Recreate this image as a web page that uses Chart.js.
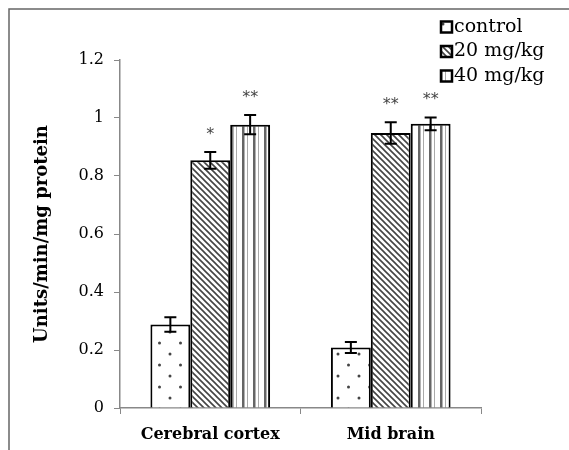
<!DOCTYPE html>
<html>
<head>
<meta charset="utf-8">
<script src="https://cdn.jsdelivr.net/npm/chart.js@4"></script>
<style>
  html, body { margin: 0; padding: 0; background: #fff; }
  #wrap { width: 569px; height: 450px; position: relative; }
</style>
</head>
<body>
<div id="wrap"><canvas id="c" width="569" height="450"></canvas></div>
<script>
"use strict";

const categories = ["Cerebral cortex", "Mid brain"];
const seriesNames = ["control", "20 mg/kg", "40 mg/kg"];
const controlVals = [0.288, 0.209];
const controlErr = [0.025, 0.019];
const mg20Vals = [0.854, 0.948];
const mg20Err = [0.029, 0.037];
const mg40Vals = [0.977, 0.980];
const mg40Err = [0.033, 0.022];
const controlMarks = ["", ""];
const mg20Marks = ["*", "**"];
const mg40Marks = ["**", "**"];
const yTicks = [0, 0.2, 0.4, 0.6, 0.8, 1, 1.2];

const SERIF = "'DejaVu Serif', serif";

// fill patterns like the old Excel ones
function makePattern(w, h, draw) {
  const cv = document.createElement("canvas");
  cv.width = w; cv.height = h;
  const g = cv.getContext("2d");
  g.fillStyle = "#fff";
  g.fillRect(0, 0, w, h);
  draw(g);
  return document.getElementById("c").getContext("2d").createPattern(cv, "repeat");
}

const dots = makePattern(21, 22, (g) => {
  g.fillStyle = "#444";
  g.beginPath(); g.arc(2, 2, 1.5, 0, Math.PI * 2); g.fill();
  g.beginPath(); g.arc(12.5, 13, 1.5, 0, Math.PI * 2); g.fill();
});
const hatch = makePattern(6, 6, (g) => {
  g.strokeStyle = "#444";
  g.lineWidth = 1.6;
  g.beginPath();
  g.moveTo(-1, -1); g.lineTo(7, 7);
  g.moveTo(-7, -1); g.lineTo(1, 7);
  g.moveTo(5, -1); g.lineTo(13, 7);
  g.stroke();
});
const stripes = makePattern(11, 4, (g) => {
  g.fillStyle = "#666";
  g.fillRect(0, 0, 2.5, 4);
  g.fillStyle = "#aaa";
  g.fillRect(5, 0, 1, 4);
});

const fills = [dots, hatch, stripes];
const errs = [controlErr, mg20Err, mg40Err];
const marks = [controlMarks, mg20Marks, mg40Marks];

const frame = {
  id: "frame",
  beforeDraw(chart) {
    const ctx = chart.ctx;
    ctx.save();
    ctx.strokeStyle = "#666";
    ctx.lineWidth = 1.5;
    ctx.beginPath();
    ctx.moveTo(9, 450); ctx.lineTo(9, 9); ctx.lineTo(569, 9);
    ctx.stroke();
    ctx.restore();
  },
};

const errorBars = {
  id: "errorBars",
  afterDatasetsDraw(chart) {
    const ctx = chart.ctx;
    const y = chart.scales.y;
    ctx.save();
    chart.data.datasets.forEach((ds, di) => {
      chart.getDatasetMeta(di).data.forEach((bar, i) => {
        const v = ds.data[i], e = errs[di][i];
        const top = y.getPixelForValue(v + e), bot = y.getPixelForValue(v - e);
        ctx.strokeStyle = "#000";
        ctx.lineWidth = 2;
        ctx.beginPath();
        ctx.moveTo(bar.x, top); ctx.lineTo(bar.x, bot);
        ctx.moveTo(bar.x - 6, top); ctx.lineTo(bar.x + 6, top);
        ctx.moveTo(bar.x - 6, bot); ctx.lineTo(bar.x + 6, bot);
        ctx.stroke();
        if (marks[di][i]) {
          ctx.fillStyle = "#444";
          ctx.font = "16px 'DejaVu Sans', sans-serif";
          ctx.textAlign = "center";
          ctx.textBaseline = "alphabetic";
          ctx.fillText(marks[di][i], bar.x, top - 13);
        }
      });
    });
    ctx.restore();
  },
};

const legendBox = {
  id: "legendBox",
  afterDraw(chart) {
    const ctx = chart.ctx;
    ctx.save();
    seriesNames.forEach((name, i) => {
      const cy = 27 + i * 24.5;
      ctx.fillStyle = fills[i];
      ctx.fillRect(441, cy - 5.5, 11, 11);
      ctx.strokeStyle = "#000";
      ctx.lineWidth = 2.5;
      ctx.strokeRect(441, cy - 5.5, 11, 11);
      ctx.fillStyle = "#000";
      ctx.font = "19px " + SERIF;
      ctx.textAlign = "left";
      ctx.textBaseline = "middle";
      ctx.fillText(name, 454, cy);
    });
    ctx.restore();
  },
};

new Chart(document.getElementById("c"), {
  type: "bar",
  data: {
    labels: categories,
    datasets: [controlVals, mg20Vals, mg40Vals].map((vals, i) => ({
      label: seriesNames[i],
      data: vals,
      backgroundColor: fills[i],
      borderColor: "#000",
      borderWidth: 2,
      categoryPercentage: 0.663,
      barPercentage: 1,
    })),
  },
  options: {
    responsive: false,
    animation: false,
    events: [],
    layout: { padding: { left: 32, right: 88, top: 60, bottom: 0 } },
    plugins: { legend: { display: false }, tooltip: { enabled: false } },
    scales: {
      x: {
        grid: { display: true, drawOnChartArea: false, color: "#888", tickLength: 6, offset: true },
        border: { color: "#888", width: 1.5 },
        ticks: { color: "#000", font: { family: SERIF, size: 16, weight: "bold" }, padding: 11 },
        afterFit: (s) => { s.height = 42; },
      },
      y: {
        min: 0,
        max: 1.2,
        afterBuildTicks: (s) => { s.ticks = yTicks.map((v) => ({ value: v })); },
        grid: { display: true, drawOnChartArea: false, color: "#888", tickLength: 6 },
        border: { color: "#888", width: 1.5 },
        ticks: {
          color: "#000",
          font: { family: SERIF, size: 16 },
          padding: 10,
          callback: (v) => String(Math.round(v * 10) / 10),
        },
        title: {
          display: true,
          text: "Units/min/mg protein",
          color: "#000",
          font: { family: SERIF, size: 18, weight: "bold" },
          padding: { top: 0, bottom: 4 },
        },
        afterFit: (s) => { s.width = 88; },
      },
    },
  },
  plugins: [frame, errorBars, legendBox],
});
</script>
</body>
</html>
